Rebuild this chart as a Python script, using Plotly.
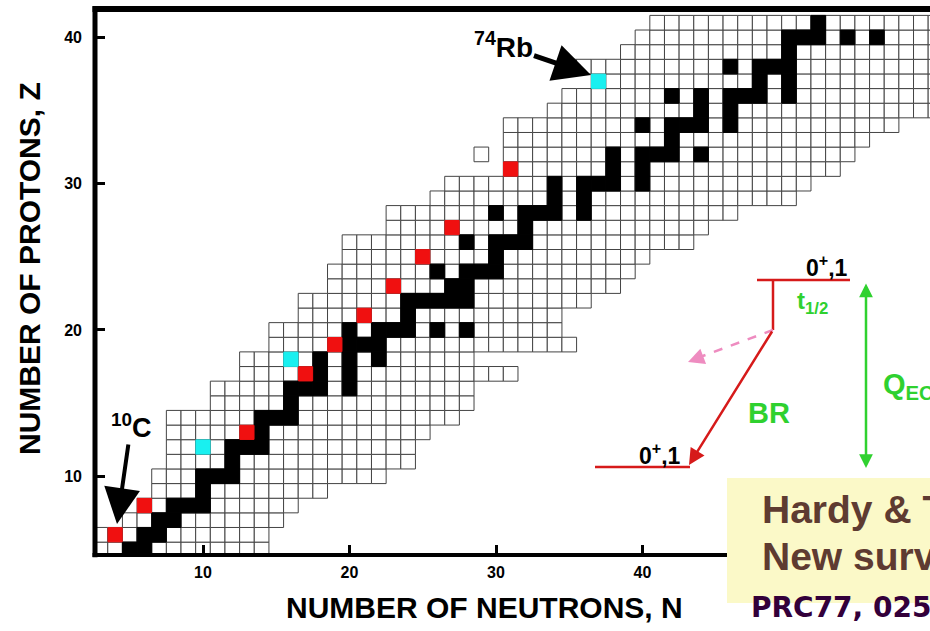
import plotly.graph_objects as go

# ---------------- data ----------------
Z_ROWS = list(range(5, 42))
N_FIRST = [3, 3, 5, 6, 7, 7, 8, 8, 8, 8, 11, 11, 13, 13, 15, 15, 17, 17, 19, 19,
           20, 20, 23, 23, 26, 27, 31, 31, 31, 31, 34, 35, 37, 35, 39, 40, 41]
N_LAST = [14, 14, 15, 16, 18, 22, 24, 24, 25, 27, 28, 28, 31, 28, 35, 34, 34, 36, 38, 39,
          40, 43, 44, 46, 50, 51, 53, 54, 55, 57, 60, 60, 60, 60, 60, 60, 60]
EXTRA_Z = [32]
EXTRA_N = [29]

STABLE_Z = [5, 5, 6, 6, 7, 7, 8, 8, 8, 9, 10, 10, 10, 11, 12, 12, 12, 13, 14, 14, 14, 15,
            16, 16, 16, 16, 17, 17, 18, 18, 18, 19, 19, 19, 20, 20, 20, 20, 20, 20, 21,
            22, 22, 22, 22, 22, 23, 23, 24, 24, 24, 24, 25, 26, 26, 26, 26, 27,
            28, 28, 28, 28, 28, 29, 29, 30, 30, 30, 30, 30, 31, 31, 32, 32, 32, 32, 32, 33,
            34, 34, 34, 34, 34, 35, 35, 36, 36, 36, 36, 36, 36, 37, 37, 38, 38, 38, 38, 39,
            40, 40, 40, 40, 40, 41]
STABLE_N = [5, 6, 6, 7, 7, 8, 8, 9, 10, 10, 10, 11, 12, 12, 12, 13, 14, 14, 14, 15, 16, 16,
            16, 17, 18, 20, 18, 20, 18, 20, 22, 20, 21, 22, 20, 22, 23, 24, 26, 28, 24,
            24, 25, 26, 27, 28, 27, 28, 26, 28, 29, 30, 30, 28, 30, 31, 32, 32,
            30, 32, 33, 34, 36, 34, 36, 34, 36, 37, 38, 40, 38, 40, 38, 40, 41, 42, 44, 42,
            40, 42, 43, 44, 46, 44, 46, 42, 44, 46, 47, 48, 50, 48, 50, 46, 48, 49, 50, 50,
            50, 51, 52, 54, 56, 52]

RED_Z = [6, 8, 13, 17, 19, 21, 23, 25, 27, 31]
RED_N = [4, 6, 13, 17, 19, 21, 23, 25, 27, 31]
CYAN_Z = [12, 18, 37]
CYAN_N = [10, 16, 37]

X_TICKS = [10, 20, 30, 40]
Y_TICKS = [10, 20, 30, 40]

# ---------------- build cells ----------------
cell_n, cell_z = [], []
for z, a, b in zip(Z_ROWS, N_FIRST, N_LAST):
    for n in range(a, b + 1):
        cell_n.append(n)
        cell_z.append(z)
cell_n += EXTRA_N
cell_z += EXTRA_Z

# ---------------- geometry (pixel layout) ----------------
W, H = 930, 631
L, R, T, B = 95, 930, 9, 555
PW, PH = R - L, B - T


def fx(p):
    return (p - L) / PW


def fy(p):
    return (B - p) / PH


FONT = "Liberation Sans, Arial, sans-serif"
WIDE = "DejaVu Sans, Verdana, sans-serif"
CELL = 14.65
GREEN = "#2fd12f"
RED = "#d61a1a"

fig = go.Figure()
fig.add_trace(go.Scatter(x=cell_n, y=cell_z, mode="markers", hoverinfo="skip",
                         marker=dict(symbol="square", size=CELL, color="white",
                                     line=dict(color="#444444", width=1))))
fig.add_trace(go.Scatter(x=STABLE_N, y=STABLE_Z, mode="markers", hoverinfo="skip",
                         marker=dict(symbol="square", size=CELL, color="black",
                                     line=dict(color="black", width=1))))
fig.add_trace(go.Scatter(x=RED_N, y=RED_Z, mode="markers", hoverinfo="skip",
                         marker=dict(symbol="square", size=CELL - 0.5, color="#f01010",
                                     line=dict(color="#f01010", width=1))))
fig.add_trace(go.Scatter(x=CYAN_N, y=CYAN_Z, mode="markers", hoverinfo="skip",
                         marker=dict(symbol="square", size=CELL - 0.5, color="#19f0f0",
                                     line=dict(color="#19f0f0", width=1))))

shapes = []
# frame (left, top, bottom); right side is cut by the picture edge
shapes.append(dict(type="line", xref="paper", yref="paper", x0=0, x1=0, y0=-0.004, y1=1.005,
                   line=dict(color="black", width=5), layer="above"))
shapes.append(dict(type="line", xref="paper", yref="paper", x0=-0.003, x1=1.0, y0=1, y1=1,
                   line=dict(color="black", width=6), layer="above"))
shapes.append(dict(type="line", xref="paper", yref="paper", x0=-0.003, x1=1.0, y0=0, y1=0,
                   line=dict(color="black", width=4), layer="above"))
# yellow reference box
shapes.append(dict(type="rect", xref="paper", yref="paper", x0=fx(727), x1=fx(940),
                   y0=fy(603), y1=fy(478), fillcolor="#fbf9c8", line=dict(width=0),
                   layer="above"))
# decay scheme levels
shapes.append(dict(type="line", xref="paper", yref="paper", x0=fx(757), x1=fx(850),
                   y0=fy(280), y1=fy(280), line=dict(color=RED, width=2.5), layer="above"))
shapes.append(dict(type="line", xref="paper", yref="paper", x0=fx(773), x1=fx(773),
                   y0=fy(280), y1=fy(330), line=dict(color=RED, width=2.5), layer="above"))
shapes.append(dict(type="line", xref="paper", yref="paper", x0=fx(595), x1=fx(690),
                   y0=fy(467), y1=fy(467), line=dict(color=RED, width=2.5), layer="above"))
shapes.append(dict(type="line", xref="paper", yref="paper", x0=fx(773), x1=fx(700),
                   y0=fy(330), y1=fy(357), line=dict(color="#ee8cc0", width=2.5, dash="dash"),
                   layer="above"))


def label(px, py, text, size, color, xanchor="center", angle=0, family=FONT):
    return dict(xref="paper", yref="paper", x=fx(px), y=fy(py), text=text, showarrow=False,
                xanchor=xanchor, yanchor="middle", textangle=angle,
                font=dict(family=family, size=size, color=color, weight="bold"))


ann = []
# axis titles
ann.append(label(484, 607, "NUMBER OF NEUTRONS, N", 30, "black"))
ann.append(label(29, 269, "NUMBER OF PROTONS, Z", 30, "black", angle=-90))
# 10C arrow
ann.append(dict(xref="paper", yref="paper", x=fx(117), y=fy(524), text="<sup>10</sup>C",
                showarrow=True, ax=14, ay=-98, arrowhead=2, arrowsize=1.8, arrowwidth=4,
                arrowcolor="black", font=dict(family=FONT, size=27, color="black", weight="bold")))
# 74Rb arrow
ann.append(dict(xref="paper", yref="paper", x=fx(591), y=fy(75), text="<sup>74</sup>Rb",
                showarrow=True, ax=-88, ay=-30, arrowhead=2, arrowsize=1.5, arrowwidth=5,
                arrowcolor="black", font=dict(family=FONT, size=28, color="black", weight="bold")))
# decay scheme arrows
ann.append(dict(xref="paper", yref="paper", x=fx(689), y=fy(465), text="", showarrow=True,
                ax=84, ay=-135, arrowhead=2, arrowsize=1.3, arrowwidth=2.5, arrowcolor=RED))
ann.append(dict(xref="paper", yref="paper", x=fx(688), y=fy(362), text="", showarrow=True,
                ax=16, ay=-6, arrowhead=2, arrowsize=1.3, arrowwidth=2.5, arrowcolor="#ee8cc0"))
ann.append(dict(xref="paper", yref="paper", x=fx(866), y=fy(468), text="", showarrow=True,
                ax=0, ay=-186, arrowhead=2, arrowsize=1.1, arrowwidth=2.5, arrowcolor=GREEN,
                arrowside="end+start"))
# decay scheme labels
ann.append(label(827, 266, "0<sup>+</sup>,1", 23, "black"))
ann.append(label(660, 454, "0<sup>+</sup>,1", 23, "black"))
ann.append(label(812, 302, "t<sub>1/2</sub>", 24, GREEN))
ann.append(label(769, 413, "BR", 29, GREEN))
ann.append(label(881, 386, "Q<sub>EC</sub>", 29, GREEN, xanchor="left"))
# reference box text
ann.append(label(760, 509, "Hardy &amp; Towner", 39, "#5e3b31", xanchor="left"))
ann.append(label(760, 556, "New survey", 39, "#5e3b31", xanchor="left"))
ann.append(label(749, 607, "PRC77, 025501 (2008)", 28, "#33003a", xanchor="left", family=WIDE))

fig.update_layout(
    width=W, height=H, margin=dict(l=L, r=W - R, t=T, b=H - B, pad=0),
    paper_bgcolor="white", plot_bgcolor="white", showlegend=False,
    shapes=shapes, annotations=ann,
    xaxis=dict(range=[10 + (L - 203) / 14.65, 10 + (R - 203) / 14.65], showgrid=False,
               zeroline=False, showline=False, ticks="inside", tickvals=X_TICKS,
               ticklen=10, tickwidth=3, tickcolor="black", ticklabelstandoff=6,
               tickfont=dict(family=FONT, size=16, color="black", weight="bold")),
    yaxis=dict(range=[12 - (B - 447) / 14.63, 12 + (447 - T) / 14.63], showgrid=False,
               zeroline=False, showline=False, ticks="inside", tickvals=Y_TICKS,
               ticklen=10, tickwidth=3, tickcolor="black", ticklabelstandoff=12,
               tickfont=dict(family=FONT, size=16, color="black", weight="bold")),
)

fig.write_html("out.html", config={"displayModeBar": False},
               post_script="document.body.style.margin='0px';"
                           "document.body.style.overflow='hidden';")
